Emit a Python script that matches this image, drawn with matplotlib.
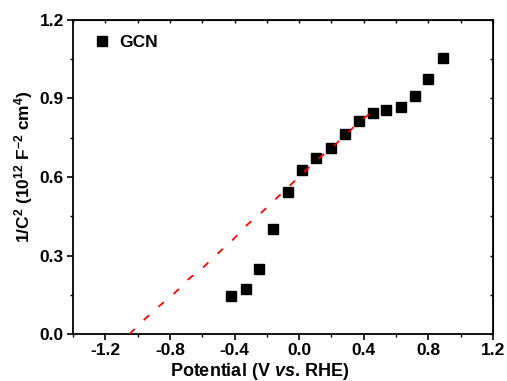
import matplotlib
matplotlib.use("Agg")
import matplotlib.pyplot as plt
from matplotlib.ticker import MultipleLocator

plt.rcParams['font.family'] = ['Liberation Sans', 'DejaVu Sans']
plt.rcParams['font.weight'] = 'bold'
plt.rcParams['axes.unicode_minus'] = False
plt.rcParams['mathtext.fontset'] = 'custom'
plt.rcParams['mathtext.rm'] = 'Liberation Sans:bold'
plt.rcParams['mathtext.bf'] = 'Liberation Sans:bold'
plt.rcParams['mathtext.it'] = 'Liberation Sans:bold:italic'

# GCN Mott-Schottky points
x_gcn = [-0.42, -0.33, -0.25, -0.16, -0.07, 0.02, 0.105, 0.195, 0.285, 0.37,
         0.455, 0.54, 0.63, 0.715, 0.80, 0.89]
y_gcn = [0.145, 0.172, 0.25, 0.40, 0.543, 0.625, 0.673, 0.712, 0.765, 0.815,
         0.846, 0.857, 0.868, 0.91, 0.976, 1.053]

# linear fit (red dashed)
x_fit = [-1.05, -0.95, -0.86, -0.77, -0.685, -0.59, -0.50, -0.41, -0.33, -0.235,
         -0.15, -0.06, 0.025, 0.11, 0.20, 0.285, 0.37, 0.455]
y_fit = [0.0, 0.06, 0.11, 0.157, 0.21, 0.257, 0.31, 0.36, 0.413, 0.463,
         0.513, 0.566, 0.616, 0.665, 0.71, 0.76, 0.81, 0.85]

xticks = [-1.2, -0.8, -0.4, 0.0, 0.4, 0.8, 1.2]
xlabels = ['-1.2', '-0.8', '-0.4', '0.0', '0.4', '0.8', '1.2']
yticks = [0.0, 0.3, 0.6, 0.9, 1.2]
ylabels = ['0.0', '0.3', '0.6', '0.9', '1.2']

fig = plt.figure(figsize=(5.07, 3.81), dpi=100)
ax = fig.add_axes([73/507, 1 - 334/381, 420/507, 314/381])

ax.plot(x_gcn, y_gcn, 's', color='black', markersize=6.5, label='GCN', zorder=2)
ax.plot(x_fit, y_fit, '--', color='red', lw=1.3, dashes=(4, 7), zorder=3)

ax.set_xlim(-1.4, 1.2)
ax.set_ylim(0.0, 1.2)
ax.set_xticks(xticks)
ax.set_xticklabels(xlabels)
ax.set_yticks(yticks)
ax.set_yticklabels(ylabels)
ax.xaxis.set_minor_locator(MultipleLocator(0.2))
ax.yaxis.set_minor_locator(MultipleLocator(0.15))

for s in ax.spines.values():
    s.set_linewidth(1.3)

ax.tick_params(which='major', direction='out', length=4.5, width=1.2,
               labelsize=12.5, pad=2)
ax.tick_params(which='minor', direction='out', length=2.5, width=1.0)

# top/right ticks point inward, short, no labels
sec_x = ax.secondary_xaxis('top')
sec_x.set_xticks(xticks)
sec_x.xaxis.set_minor_locator(MultipleLocator(0.2))
sec_x.tick_params(which='both', direction='in', length=2.5, width=1.0, labeltop=False)
sec_y = ax.secondary_yaxis('right')
sec_y.set_yticks(yticks)
sec_y.yaxis.set_minor_locator(MultipleLocator(0.15))
sec_y.tick_params(which='both', direction='in', length=2.5, width=1.0, labelright=False)

ax.set_xlabel(r'Potential (V $\it{vs}$. RHE)', fontsize=13, fontweight='bold',
              va='center', ha='center')
ax.xaxis.set_label_coords((260 - 73) / 420, -(372 - 334) / 314)
ax.set_ylabel(r'1/C$^{\mathbf{2}}$ (10$^{\mathbf{12}}$ F$^{\mathbf{-2}}$ cm$^{\mathbf{4}}$)',
              fontsize=12.5, fontweight='bold', va='center', ha='center')
ax.yaxis.set_label_coords(-(73 - 24) / 420, (334 - 167) / 314)

ax.legend(loc='center left', frameon=False, fontsize=12.5, handlelength=0.8,
          handletextpad=0.6, borderaxespad=0, borderpad=0,
          bbox_to_anchor=((95 - 73) / 420, (334 - 42) / 314))

fig.savefig('out.png', dpi=100)
